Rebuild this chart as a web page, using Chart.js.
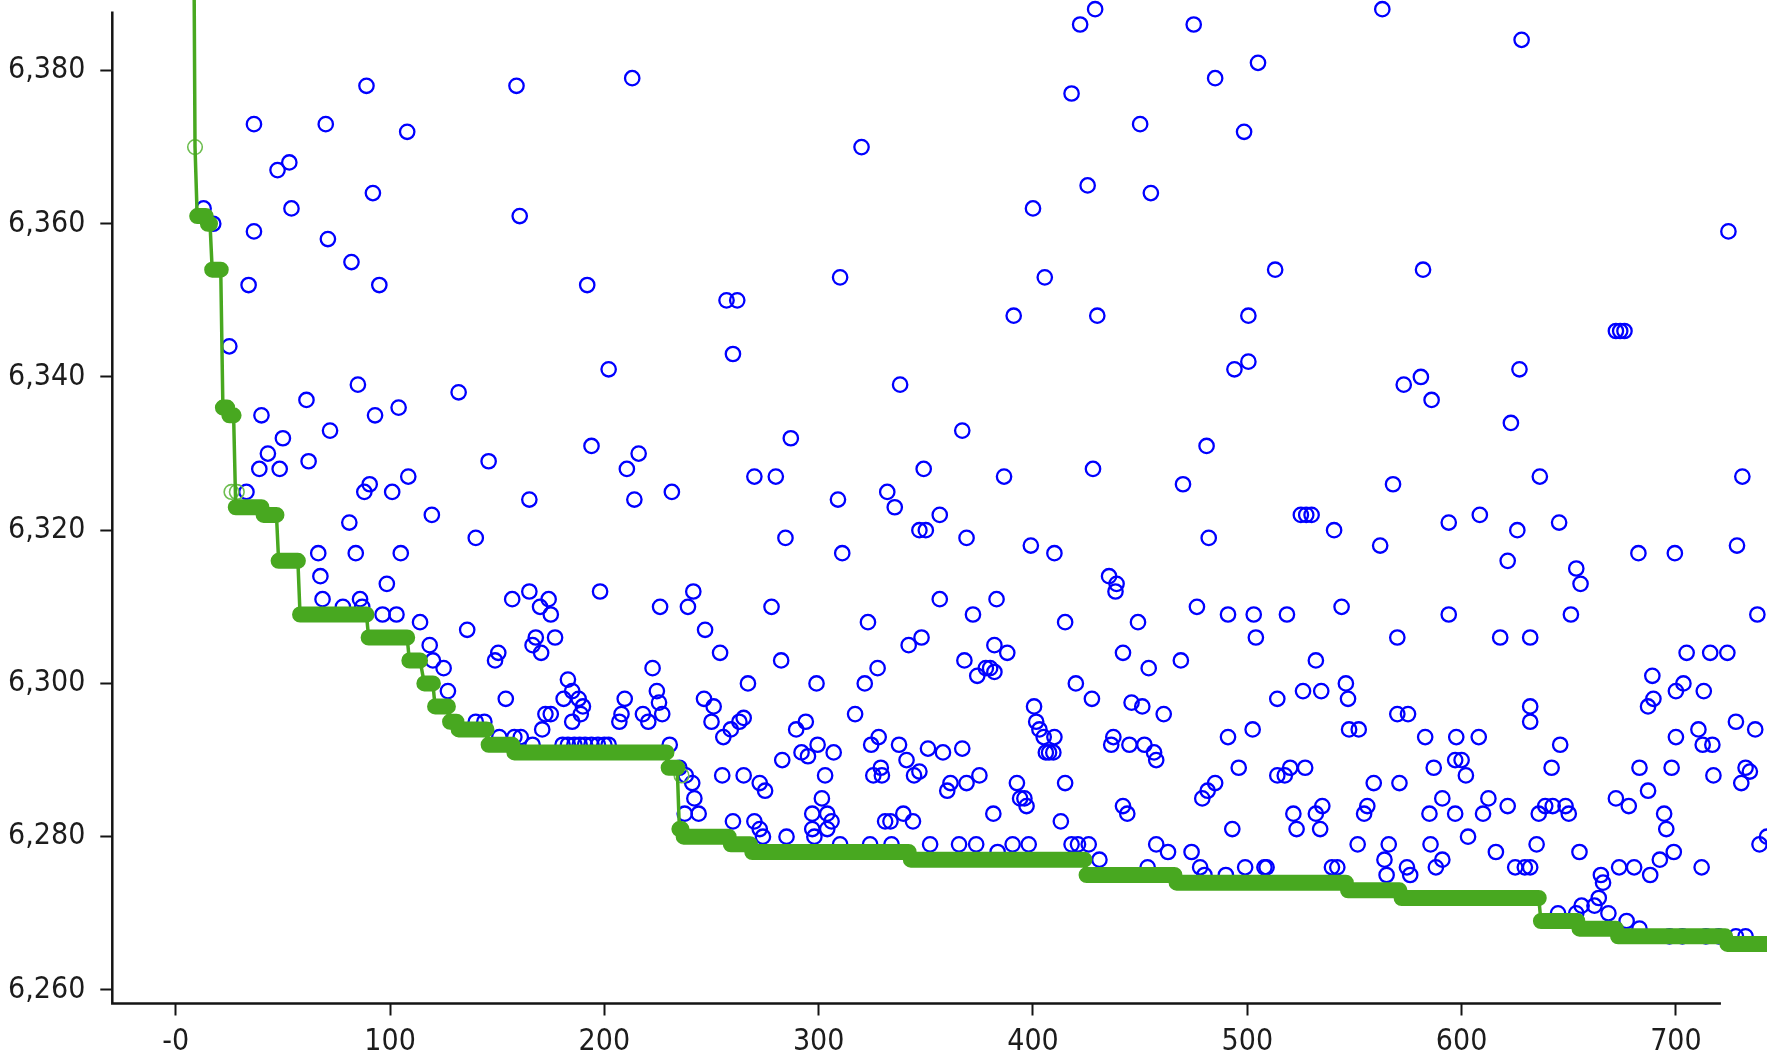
<!DOCTYPE html>
<html>
<head>
<meta charset="utf-8">
<title>Cost per iteration</title>
<script src="https://cdn.jsdelivr.net/npm/chart.js@4/dist/chart.umd.min.js"></script>
<style>
  html, body { margin: 0; padding: 0; background: #ffffff; }
  #wrap { width: 1778px; height: 1052px; }
  canvas { display: block; }
</style>
</head>
<body>
<div id="wrap"><canvas id="chart" width="1778" height="1052"></canvas></div>
<script>
// Every sampled solution: iteration number and its cost
const sampleIter = [
  89,159,36.5,70,108,53,47.5,92,54,160.5,13,17.5,36.5,71,82,34,95,25,
  213,320,192,257,262,310,
  429,422,475,505,485,418,450,498.5,425.5,455,400,513,405.5,391,430,500.5,
  563,628,724.5,582,672,674,676,
  85,132,61,104,93,40,72,50,43,146,62,39,48.5,108.5,90.5,88,101,33,165,119.5,81,140,66.5,84,105,67.5,98.5,68.5,78,86,87,96.5,103,114,157,165,136,118.5,150.5,149,120,125,
  260,202,338,287,194,216,210.5,270,280,349,231.5,214,309,332,335.5,356.5,347,350,284.5,311,198,241.5,239,226,278,356.5,323,247,348,342,254,282.5,222.5,327.5,174,170,175,168,166.5,170.5,177,183,267,299,321.5,
  500.5,494,367,481,386.5,428,470,525,527.5,530,540.5,369,482,399,410,435.5,439,438.5,383,372,415,449,476.5,491,503,518.5,544,504,382,388,368,378,380,382,374,442,454,469,532,420,546,
  573,581,586,627,623,636.5,731,568,626,645.5,608.5,594,562,682.5,699.5,728.5,621.5,653.5,655.5,651,594,570,618,632,738,705,716,724,689,713,
  127,140,144,154,151,158,161,166.5,171,172.5,175,181,185,188,190,189,185,180.5,183,186,188.5,191,194,197,200,202,208,209.5,207,218,220.5,224.5,225.5,227,230.5,235,238,241,242,244,237.5,
  246.5,251,250,255.5,263,265,259,265,255,260,270,272.5,274,272.5,275,283,285,289.5,292,294,295,297,297,298,299.5,303,304,306,304,307,301.5,310,317,324.5,325.5,328,329,329.5,324,331,333.5,334,337.5,339.5,341,344,344.5,347,351,352,358,360,361.5,367,369,365.5,373.5,375,381.5,383.5,392.5,394,396,397,398,390.5,400.5,401.5,403,405,406,407.5,410,413,409.5,415,418,421,
  426,427.5,431,436.5,437.5,442,444,445,446,451,452,456.5,457.5,457.5,463,461,453.5,474,478,480,479,481.5,485,490,491,493,496,502.5,499,508,509,514,517.5,520,514,521.5,523,526,527,532,534,535,534.5,539.5,542,547,547.5,552,554.5,556,551.5,559,
  564,565,570,575,571,566,574.5,576,583,585,585.5,588,591,591,597.5,608,597,600,597,602,603,610,612.5,616,621.5,625,629.5,632,635,636,639,642.5,642,646,648.5,650,645,653.5,656,655,662,664,665,666,668.5,672,673.5,678,683,680.5,687,688,694.5,695.5,692.5,699,700,698,703.5,700,712,712.5,717,717.5,732.5,734.5,730.5,739,742.5,714,703,720,728,697,732.5,677,683,632,632,687,689.5,728,737,710.5,587
];
const sampleCost = [
  6378,6378,6373,6373,6372,6368,6367,6364,6362,6361,6362,6360,6359,6358,6355,6352,6352,6344,
  6379,6370,6352,6350,6350,6353,
  6388,6386,6386,6381,6379,6377,6373,6372,6365,6364,6362,6354,6353,6348,6348,6348,
  6388,6384,6359,6354,6346,6346,6346,
  6339,6338,6337,6336,6335,6335,6333,6332,6330,6329,6329,6328,6328,6327,6326,6325,6325,6325,6324,6322,6321,6319,6317,6317,6317,6314,6313,6311,6310,6311,6310,6309,6309,6308,6311,6312,6307,6305,6304,6303,6303,6302,
  6343,6341,6339,6332,6331,6330,6328,6327,6327,6328,6325,6324,6324,6325,6323,6322,6320,6320,6319,6317,6312,6312,6310,6310,6310,6311,6308,6307,6306,6305,6304,6303,6302,6302,6311,6310,6309,6306,6305,6304,6306,6300.5,6300,6300,6300,
  6342,6341,6333,6331,6327,6328,6326,6322,6322,6322,6320,6319,6319,6318,6317,6314,6313,6312,6311,6309,6308,6308,6310,6309,6309,6309,6310,6306,6305,6304,6303,6302,6302,6301.5,6301,6304,6302,6303,6303,6300,6300,
  6339,6340,6337,6341,6334,6327,6327,6326,6320,6321,6322,6321,6318,6317,6317,6318,6316,6315,6313,6309,6309,6306,6306,6306,6309,6304,6304,6304,6301,6299,
  6299,6295,6295,6298,6293,6293,6293,6292,6294,6296,6296,6298,6299,6298,6297,6296,6295,6292,6292,6292,6292,6292,6292,6292,6292,6292,6296,6298,6295,6296,6295,6299,6297.5,6296,6292,6289,6288,6287,6285,6283,6283,
  6298,6297,6295,6293,6295,6295.5,6294,6288,6288,6282,6282,6281,6280,6287,6286,6290,6280,6294,6291,6295,6290.5,6283,6281,6280,6292,6288,6283,6282,6281,6291,6285,6279,6296,6292,6288,6293,6289,6288,6279,6282,6282,6279,6292,6283,6290,6282,6288,6288.5,6291.5,6279,6291,6286,6287,6291.5,6287,6279,6279,6288,6283,6278,6287,6285,6285,6284,6279,6279,6297,6295,6294,6293,6291,6291,6293,6282,6291,6287,6279,6279,
  6279,6298,6277,6292,6293,6284,6283,6292,6297.5,6297,6292,6291,6290,6279,6278,6296,6276,6278,6276,6275,6285,6286,6287,6275,6293,6281,6289,6294,6276,6276,6276,6288,6288,6289,6298,6283,6281,6299,6289,6283,6281,6284,6299,6276,6276,6298,6294,6294,6283,6284,6279,6287,
  6277,6275,6296,6296,6287,6279,6276,6275,6293,6283,6279,6276,6277,6285,6293,6293,6290,6290,6283,6288,6280,6283,6285,6278,6284,6276,6276,6276,6279,6283,6284,6284,6289,6292,6284,6283,6270,6270,6271,6278,6271,6272,6275,6274,6270,6285,6276,6284,6289,6276,6286,6275,6283,6281,6277,6278,6293,6289,6300,6299,6276,6292,6292,6288,6289,6288.5,6287,6279,6280,6267,6267,6267,6267,6267,6267,6269,6268,6297,6295,6297,6298,6295,6294,6294,6289
];

// Best cost found so far, as plateaus: first and last iteration of each level
const bestStart = [8, 9, 10, 15, 17, 22, 25, 28, 41, 48, 58, 90, 109, 116, 121, 128, 132, 146, 158, 230, 235, 237, 259, 269, 343, 425, 467, 547, 572, 637, 655, 673, 724];
const bestEnd   = [8, 9, 14, 16, 21, 24, 27, 40, 47, 57, 89, 108, 114, 120, 127, 131, 145, 157, 229, 234, 236, 258, 268, 342, 424, 466, 546, 571, 636, 654, 672, 723, 745];
const bestCost  = [6420, 6370, 6361, 6360, 6354, 6336, 6335, 6323, 6322, 6316, 6309, 6306, 6303, 6300, 6297, 6295, 6294, 6292, 6291, 6289, 6281, 6280, 6279, 6278, 6277, 6275, 6274, 6273, 6272, 6269, 6268, 6267, 6266];

// Samples that set a new best
const improveIter = [9, 26, 28.5, 236];
const improveCost = [6370, 6325, 6325, 6288];

// Axis ticks
const xTickValues = [0, 100, 200, 300, 400, 500, 600, 700];
const xTickLabels = ['-0', '100', '200', '300', '400', '500', '600', '700'];
const yTickValues = [6260, 6280, 6300, 6320, 6340, 6360, 6380];
const yTickLabels = ['6,260', '6,280', '6,300', '6,320', '6,340', '6,360', '6,380'];

// Visible ranges and the extent of the drawn axis lines
const xRange = [-29.6, 742.5];
const yRange = [6258.23, 6389.2];
const xAxisEnd = 721;
const yAxisTop = 6387.7;

const BLUE = 'rgb(0,0,255)';
const GREEN = 'rgb(72,168,32)';
const AXIS = '#141414';
const FONT = "'Liberation Sans Narrow', 'Arial Narrow', 'DejaVu Sans Condensed', sans-serif";

const samples = sampleIter.map((x, i) => ({ x, y: sampleCost[i] }));

// thin connecting line through every plateau end
const bestLine = [];
bestStart.forEach((s, i) => {
  bestLine.push({ x: s, y: bestCost[i] });
  if (bestEnd[i] !== s) bestLine.push({ x: bestEnd[i], y: bestCost[i] });
});

// thick band of best-so-far markers along each plateau
const bestBand = [];
bestStart.forEach((s, i) => {
  if (bestEnd[i] > s) {
    bestBand.push({ x: s, y: bestCost[i] });
    bestBand.push({ x: bestEnd[i], y: bestCost[i] });
    bestBand.push({ x: bestEnd[i], y: null });
  }
});

const improvements = improveIter.map((x, i) => ({ x, y: improveCost[i] }));

const axisLines = {
  id: 'axisLines',
  afterDraw(chart) {
    const { ctx, chartArea, scales } = chart;
    ctx.save();
    ctx.strokeStyle = AXIS;
    ctx.lineWidth = 2.5;
    ctx.beginPath();
    ctx.moveTo(chartArea.left, scales.y.getPixelForValue(yAxisTop));
    ctx.lineTo(chartArea.left, chartArea.bottom);
    ctx.lineTo(scales.x.getPixelForValue(xAxisEnd), chartArea.bottom);
    ctx.stroke();
    ctx.restore();
  }
};

// the axes carry no extra label padding into the layout
function noEdgePadding(scale) {
  scale.paddingTop = 0;
  scale.paddingBottom = 0;
  scale.paddingLeft = 0;
  scale.paddingRight = 0;
}

const clipBox = { left: 20, top: 20, right: 0, bottom: 0 };

new Chart(document.getElementById('chart'), {
  type: 'scatter',
  data: {
    datasets: [
      {
        label: 'best band',
        type: 'line',
        data: bestBand,
        borderColor: GREEN,
        borderWidth: 16,
        borderCapStyle: 'round',
        borderJoinStyle: 'round',
        pointRadius: 0,
        spanGaps: false,
        fill: false,
        order: 0,
        clip: clipBox
      },
      {
        label: 'best line',
        type: 'line',
        data: bestLine,
        borderColor: GREEN,
        borderWidth: 3.5,
        pointRadius: 0,
        fill: false,
        order: 1,
        clip: clipBox
      },
      {
        label: 'new best',
        data: improvements,
        showLine: false,
        pointRadius: 7.3,
        pointBorderWidth: 1.6,
        pointBorderColor: 'rgb(110,190,80)',
        pointBackgroundColor: 'rgba(0,0,0,0)',
        order: 2,
        clip: clipBox
      },
      {
        label: 'samples',
        data: samples,
        showLine: false,
        pointRadius: 7.2,
        pointBorderWidth: 2.3,
        pointBorderColor: BLUE,
        pointBackgroundColor: 'rgba(0,0,0,0)',
        order: 3,
        clip: clipBox
      }
    ]
  },
  options: {
    responsive: false,
    animation: false,
    devicePixelRatio: 1,
    layout: { autoPadding: false, padding: { left: 0, right: 11, top: 0, bottom: 0 } },
    plugins: { legend: { display: false }, tooltip: { enabled: false } },
    scales: {
      x: {
        type: 'linear',
        min: xRange[0],
        max: xRange[1],
        afterBuildTicks(scale) { scale.ticks = xTickValues.map(v => ({ value: v })); },
        afterFit(scale) { scale.height = 48.5; noEdgePadding(scale); },
        border: { display: false },
        grid: { display: true, drawOnChartArea: false, drawTicks: true, tickLength: 12, tickWidth: 2, tickColor: AXIS },
        ticks: {
          autoSkip: false,
          maxRotation: 0,
          padding: 9,
          color: '#1c1c1c',
          font: { family: FONT, size: 30 },
          callback: (v) => xTickLabels[xTickValues.indexOf(v)]
        }
      },
      y: {
        type: 'linear',
        min: yRange[0],
        max: yRange[1],
        afterBuildTicks(scale) { scale.ticks = yTickValues.map(v => ({ value: v })); },
        afterFit(scale) { scale.width = 112.3; noEdgePadding(scale); },
        border: { display: false },
        grid: { display: true, drawOnChartArea: false, drawTicks: true, tickLength: 12, tickWidth: 2, tickColor: AXIS },
        ticks: {
          autoSkip: false,
          padding: 15,
          color: '#1c1c1c',
          font: { family: FONT, size: 30 },
          callback: (v) => yTickLabels[yTickValues.indexOf(v)]
        }
      }
    }
  },
  plugins: [axisLines]
});
</script>
</body>
</html>
